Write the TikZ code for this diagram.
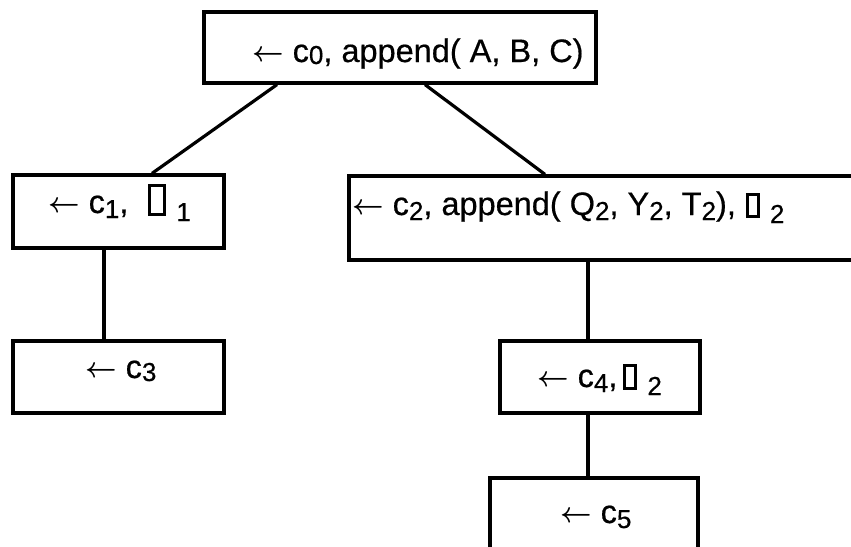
\documentclass[tikz,border=0pt]{standalone}
\usepackage{fontspec}
\setmainfont{Liberation Sans}
\newfontfamily\goalfont{Liberation Sans}[FakeBold=0.5]
\usetikzlibrary{calc}

% lowered, slightly smaller index
\newcommand\idx[2][5pt]{\raisebox{-#1}{\fontsize{26}{26}\selectfont #2}}
% empty goal marker: a tall narrow framed box
\newcommand\hole[2]{{\setlength\fboxrule{3pt}\setlength\fboxsep{0pt}\fbox{\rule{0pt}{#2}\rule{#1}{0pt}}}}
% derivation arrow
\newcommand\larr{\raisebox{1pt}{\scalebox{1.1}[1.15]{\boldmath$\leftarrow$}}}

\tikzset{
  goal/.style={draw, line width=3.2pt, rectangle, inner sep=0pt},
  goaltext/.style={anchor=base west, inner sep=0pt, font=\goalfont\fontsize{32.5}{34}\selectfont},
  edge/.style={line width=3.2pt}
}

\begin{document}
\begin{tikzpicture}[x=1pt, y=-1pt]
  \useasboundingbox (0,0) rectangle (851,546);
  \clip (0,0) rectangle (851,546);

  % goal boxes
  \node[goal, minimum width=392pt, minimum height=71pt] (top) at (400,47.5) {};
  \node[goal, minimum width=211pt, minimum height=73pt] (b1) at (118.5,211.5) {};
  \node[goal, minimum width=521pt, minimum height=84pt] (b2) at (609.5,218) {};
  \node[goal, minimum width=211pt, minimum height=72pt] (b3) at (118.5,377) {};
  \node[goal, minimum width=200pt, minimum height=72pt] (b4) at (600,377) {};
  \node[goal, minimum width=208pt, minimum height=92pt] (b5) at (594,524) {};

  % goal texts
  \node[goaltext] (t0) at (252,62) {\larr{} c\idx[2pt]{0}, append( A, B, C)};
  \node[goaltext] (t1) at (48,213) {\larr{} c\idx{1},\hspace{20pt}\hole{12pt}{26pt}\hspace{10pt}\idx[8pt]{1}};
  \node[goaltext] (t2) at (352,215) {\larr{} c\idx{2}, append( Q\idx{2}, Y\idx{2}, T\idx{2}),\hspace{10pt}\hole{8pt}{19pt}\hspace{10pt}\idx[8pt]{2}};
  \node[goaltext] (t3) at (85,378) {\larr{} c\idx[3pt]{3}};
  \node[goaltext] (t4) at (537,387) {\larr{} c\idx{4},\hspace{6pt}\hole{8pt}{20pt}\hspace{10pt}\idx[8pt]{2}};
  \node[goaltext] (t5) at (560,523) {\larr{} c\idx{5}};

  % derivation edges
  \draw[edge] ($(top.south)+(-123,0)$) -- ($(b1.north)+(33.5,0)$);
  \draw[edge] ($(top.south)+(25,0)$) -- ($(b2.north)+(-64.5,0)$);
  \draw[edge] ($(b1.south)+(-14.5,0)$) -- ($(b3.north)+(-14.5,0)$);
  \draw[edge] ($(b2.south)+(-21.5,0)$) -- ($(b4.north)+(-12,0)$);
  \draw[edge] ($(b4.south)+(-12,0)$) -- ($(b5.north)+(-6,0)$);
\end{tikzpicture}
\end{document}
